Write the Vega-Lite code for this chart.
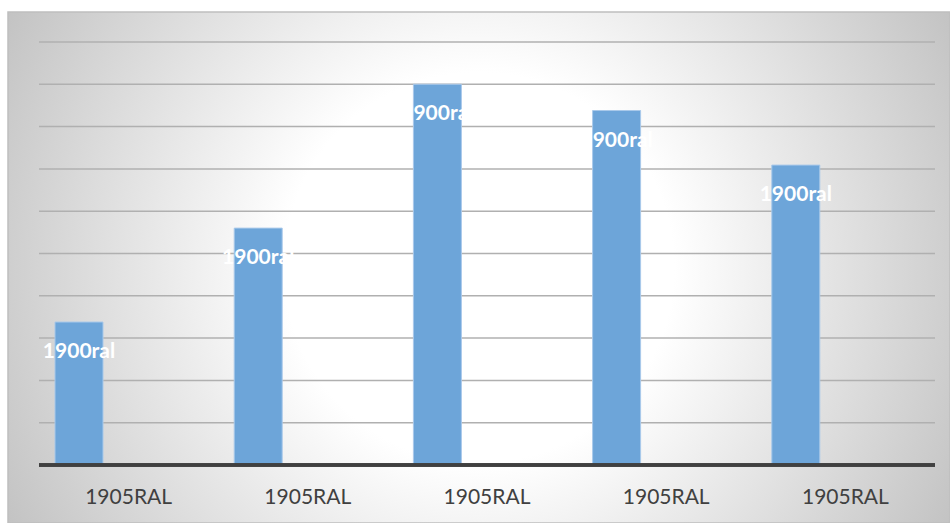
{
  "$schema": "https://vega.github.io/schema/vega-lite/v6.json",
  "width": 942,
  "height": 511,
  "autosize": {"type": "none"},
  "padding": {"left": 8, "top": 12, "right": 0, "bottom": 0},
  "background": "white",
  "config": {
    "font": "Lato",
    "view": {
      "stroke": "#bfbfbf",
      "strokeWidth": 1.5,
      "fill": {
        "gradient": "radial",
        "x1": 0.5, "y1": 0.5, "r1": 0,
        "x2": 0.5, "y2": 0.5, "r2": 0.575,
        "stops": [
          {"offset": 0, "color": "#ffffff"},
          {"offset": 0.36, "color": "#ffffff"},
          {"offset": 1, "color": "#c2c2c2"}
        ]
      }
    }
  },
  "datasets": {
    "bars": [
      {"cat": "1905RAL#1", "name": "1905RAL", "series": "A", "value": 3.38, "label": "1900ral"},
      {"cat": "1905RAL#2", "name": "1905RAL", "series": "A", "value": 5.6, "label": "1900ral"},
      {"cat": "1905RAL#3", "name": "1905RAL", "series": "A", "value": 9.0, "label": "1900ral"},
      {"cat": "1905RAL#4", "name": "1905RAL", "series": "A", "value": 8.38, "label": "1900ral"},
      {"cat": "1905RAL#5", "name": "1905RAL", "series": "A", "value": 7.09, "label": "1900ral"}
    ],
    "grid": [
      {"v": 1}, {"v": 2}, {"v": 3}, {"v": 4}, {"v": 5},
      {"v": 6}, {"v": 7}, {"v": 8}, {"v": 9}, {"v": 10}
    ]
  },
  "layer": [
    {
      "data": {"name": "grid"},
      "mark": {"type": "rule", "color": "#b0b0b0", "strokeWidth": 1.5},
      "encoding": {
        "y": {"field": "v", "type": "quantitative", "axis": null},
        "x": {"datum": "1905RAL#1", "type": "nominal", "bandPosition": 0, "axis": null},
        "x2": {"datum": "1905RAL#5", "bandPosition": 1}
      }
    },
    {
      "data": {"name": "bars"},
      "mark": {"type": "bar", "color": "#6da5d9", "stroke": "#a9c9ea", "strokeWidth": 1},
      "encoding": {
        "x": {
          "field": "cat", "type": "nominal", "sort": null,
          "scale": {"paddingInner": 0, "paddingOuter": 0.12835, "align": 0.674},
          "axis": null
        },
        "xOffset": {
          "field": "series", "type": "nominal",
          "scale": {"domain": ["A", "B", "C"], "paddingInner": 0, "paddingOuter": 0.3667, "align": 0.4545}
        },
        "y": {
          "field": "value", "type": "quantitative",
          "scale": {"domain": [-1.371, 10.709], "nice": false, "zero": false},
          "axis": null
        },
        "y2": {"datum": 0}
      }
    },
    {
      "data": {"name": "bars"},
      "mark": {"type": "rule", "color": "#404040", "strokeWidth": 3},
      "encoding": {
        "y": {"datum": 0, "type": "quantitative", "axis": null},
        "x": {"datum": "1905RAL#1", "type": "nominal", "bandPosition": 0, "axis": null},
        "x2": {"datum": "1905RAL#5", "bandPosition": 1}
      }
    },
    {
      "data": {"name": "bars"},
      "mark": {"type": "text", "color": "white", "fontWeight": "bold", "fontSize": 21, "font": "Lato", "baseline": "alphabetic", "align": "center", "dy": 36},
      "encoding": {
        "x": {"field": "cat", "type": "nominal", "axis": null},
        "xOffset": {"field": "series", "type": "nominal"},
        "y": {"field": "value", "type": "quantitative", "axis": null},
        "text": {"field": "label"}
      }
    },
    {
      "data": {"name": "bars"},
      "mark": {"type": "text", "color": "#404040", "fontSize": 21, "font": "Lato", "baseline": "alphabetic", "align": "center"},
      "encoding": {
        "x": {"field": "cat", "type": "nominal", "axis": null},
        "y": {"datum": -0.92, "type": "quantitative", "axis": null},
        "text": {"field": "name"}
      }
    }
  ]
}
